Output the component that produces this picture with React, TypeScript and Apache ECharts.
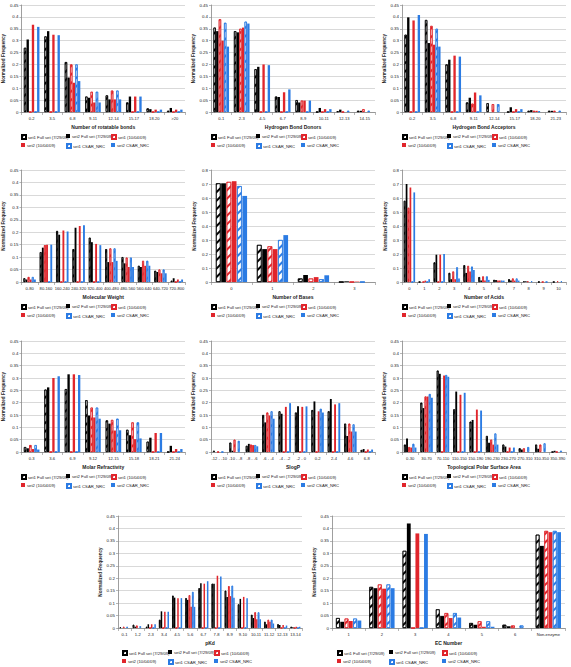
import React, { useEffect, useRef } from "react";
import * as echarts from "echarts";

const seriesNames = [
  "set1 Full set (7/29/09)",
  "set2 Full set (7/29/09)",
  "set1 (10/04/09)",
  "set2 (10/04/09)",
  "set1 CSAR_NRC",
  "set2 CSAR_NRC",
];

// Rotatable bonds
const rotCats = ["0-2", "3-5", "6-8", "9-11", "12-14", "15-17", "18-20", ">20"];
const rotVals = [
  [0.27, 0.318, 0.21, 0.065, 0.07, 0.04, 0.015, 0.005],
  [0.305, 0.34, 0.145, 0.06, 0.053, 0.065, 0.012, 0.017],
  [0, 0, 0.2, 0.085, 0.09, 0, 0, 0],
  [0.367, 0.325, 0.123, 0.04, 0.053, 0.065, 0.01, 0.01],
  [0, 0, 0.2, 0.085, 0.09, 0, 0, 0],
  [0.358, 0.323, 0.13, 0.04, 0.053, 0.065, 0.01, 0.01],
];

// Hydrogen bond donors
const hbdCats = ["0-1", "2-3", "4-5", "6-7", "8-9", "10-11", "12-13", "14-15"];
const hbdVals = [
  [0.355, 0.34, 0.18, 0.065, 0.05, 0, 0.003, 0.005],
  [0.34, 0.335, 0.19, 0.063, 0.04, 0.017, 0.01, 0.005],
  [0.39, 0.35, 0, 0, 0.048, 0, 0, 0.012],
  [0.3, 0.355, 0.2, 0.083, 0.048, 0.012, 0, 0],
  [0.375, 0.38, 0, 0, 0, 0, 0.005, 0.005],
  [0.275, 0.372, 0.197, 0.095, 0.048, 0.012, 0, 0],
];

// Hydrogen bond acceptors
const hbaCats = ["0-2", "3-5", "6-8", "9-11", "12-14", "15-17", "18-20", "21-23"];
const hbaVals = [
  [0.325, 0.387, 0.2, 0.04, 0.037, 0, 0.005, 0.005],
  [0.398, 0.29, 0.22, 0.06, 0, 0.02, 0.008, 0.005],
  [0, 0.362, 0, 0.035, 0.033, 0, 0.005, 0.005],
  [0.385, 0.283, 0.237, 0.082, 0, 0.012, 0.005, 0],
  [0, 0.35, 0, 0, 0.033, 0, 0.003, 0.005],
  [0.408, 0.275, 0.233, 0.07, 0, 0.012, 0, 0],
];

// Molecular weight
const mwCats = ["0-80", "80-160", "160-240", "240-320", "320-400", "400-480", "480-560", "560-640", "640-720", "720-800"];
const mwVals = [
  [0.015, 0.12, 0.205, 0.132, 0.178, 0.132, 0.1, 0.065, 0.045, 0.005],
  [0.01, 0.138, 0.19, 0.218, 0.16, 0.08, 0.075, 0.06, 0.04, 0.015],
  [0.02, 0.148, 0, 0, 0, 0.135, 0.098, 0.085, 0.05, 0],
  [0.01, 0.15, 0.207, 0.225, 0.153, 0.08, 0.06, 0.065, 0.035, 0.01],
  [0.02, 0, 0, 0, 0, 0.135, 0.098, 0.085, 0.05, 0],
  [0.01, 0.15, 0.203, 0.228, 0.148, 0.085, 0.06, 0.065, 0.035, 0.01],
];

// Number of bases
const baseCats = ["0", "1", "2", "3"];
const baseVals = [
  [0.705, 0.265, 0.025, 0],
  [0.705, 0.235, 0.05, 0.005],
  [0.715, 0.255, 0.025, 0],
  [0.72, 0.235, 0.035, 0.003],
  [0.685, 0.3, 0.02, 0],
  [0.615, 0.335, 0.048, 0],
];

// Number of acids
const acidCats = ["0", "1", "2", "3", "4", "5", "6", "7", "8", "9", "10"];
const acidVals = [
  [0.58, 0, 0.14, 0.065, 0.12, 0.035, 0.015, 0.02, 0.005, 0, 0],
  [0.7, 0, 0.195, 0.02, 0.065, 0.01, 0.015, 0.01, 0.005, 0, 0],
  [0.53, 0, 0, 0.075, 0.115, 0.04, 0.01, 0.025, 0.005, 0, 0.005],
  [0.675, 0.01, 0.195, 0.02, 0.075, 0.01, 0.01, 0.01, 0, 0, 0],
  [0, 0, 0, 0.105, 0.11, 0.04, 0.01, 0.025, 0.005, 0, 0.005],
  [0.64, 0.02, 0.2, 0.025, 0.085, 0.015, 0.01, 0.01, 0, 0, 0],
];

// Molar refractivity
const mrCats = ["0-3", "3-6", "6-9", "9-12", "12-15", "15-18", "18-21", "21-24"];
const mrVals = [
  [0.02, 0.253, 0.255, 0.21, 0.128, 0.09, 0.042, 0],
  [0.015, 0.262, 0.315, 0.148, 0.115, 0.068, 0.058, 0.025],
  [0.028, 0, 0, 0.18, 0.13, 0.12, 0, 0],
  [0.012, 0.3, 0.315, 0.14, 0.087, 0.052, 0.077, 0.012],
  [0.028, 0, 0, 0.18, 0.135, 0.12, 0, 0],
  [0.01, 0.307, 0.312, 0.135, 0.088, 0.055, 0.077, 0.012],
];

// SlogP
const slogpCats = ["-12 - -10", "-10 - -8", "-8 - -6", "-6 - -4", "-4 - -2", "-2 - 0", "0-2", "2-4", "4-6", "6-8"];
const slogpVals = [
  [0.005, 0.038, 0.025, 0.15, 0.165, 0.16, 0.17, 0.165, 0.115, 0.008],
  [0, 0.005, 0.033, 0.12, 0.155, 0.185, 0.205, 0.215, 0.065, 0.012],
  [0, 0.05, 0.03, 0.16, 0, 0, 0, 0, 0.115, 0],
  [0, 0, 0.028, 0.148, 0.183, 0.183, 0.165, 0.193, 0.083, 0.01],
  [0, 0.045, 0.028, 0.165, 0, 0, 0.175, 0, 0.112, 0],
  [0, 0, 0.023, 0.135, 0.198, 0.185, 0.16, 0.198, 0.083, 0.01],
];

// Topological polar surface area
const tpsaCats = ["0-30", "30-70", "70-110", "110-150", "150-190", "190-230", "230-270", "270-310", "310-350", "350-390"];
const tpsaVals = [
  [0.03, 0.2, 0.33, 0.173, 0.123, 0.065, 0.03, 0.015, 0.03, 0],
  [0.055, 0.178, 0.317, 0.245, 0.13, 0.038, 0.022, 0.01, 0.013, 0.005],
  [0.02, 0.225, 0, 0, 0, 0.05, 0, 0.015, 0.03, 0],
  [0.018, 0.225, 0.31, 0.232, 0.172, 0.03, 0.018, 0, 0, 0],
  [0.033, 0.235, 0.312, 0, 0, 0.075, 0, 0.02, 0.035, 0.005],
  [0.018, 0.22, 0.305, 0.24, 0.168, 0.03, 0.018, 0, 0, 0],
];

// pKd
const pkdCats = ["0-1", "1-2", "2-3", "3-4", "4-5", "5-6", "6-7", "7-8", "8-9", "9-10", "10-11", "11-12", "12-13", "13-14"];
const pkdVals = [
  [0.003, 0.013, 0.005, 0.033, 0.13, 0.12, 0.16, 0.178, 0.15, 0.095, 0.053, 0.025, 0.015, 0.005],
  [0, 0.005, 0.015, 0.067, 0.122, 0.113, 0.18, 0.178, 0.125, 0.117, 0.04, 0.015, 0.012, 0.003],
  [0.005, 0.01, 0, 0, 0, 0.132, 0, 0, 0.168, 0, 0.063, 0.033, 0, 0],
  [0, 0, 0.015, 0.065, 0.12, 0.085, 0.178, 0.21, 0.128, 0.125, 0.035, 0.025, 0.012, 0.005],
  [0.005, 0.007, 0, 0, 0, 0.145, 0, 0, 0.17, 0, 0.063, 0.033, 0, 0],
  [0, 0, 0.015, 0.065, 0.12, 0.085, 0.188, 0.207, 0.122, 0.12, 0.035, 0.018, 0.01, 0.005],
];

// EC number
const ecCats = ["1", "2", "3", "4", "5", "6", "Non-enzyme"];
const ecVals = [
  [0.04, 0.165, 0.31, 0.075, 0.02, 0.013, 0.375],
  [0.025, 0.16, 0.42, 0.048, 0.013, 0.007, 0.33],
  [0.038, 0.175, 0, 0.06, 0.027, 0.01, 0.39],
  [0.028, 0.158, 0.38, 0.04, 0.005, 0, 0.385],
  [0.038, 0.175, 0, 0.06, 0.027, 0.01, 0.39],
  [0.03, 0.16, 0.378, 0.042, 0.005, 0, 0.385],
];

const FONT = "'Liberation Sans Narrow', 'Liberation Sans', Arial, sans-serif";
const BLACK = "#000000";
const RED = "#e0252b";
const BLUE = "#2b7be3";
const seriesColors = [BLACK, BLACK, RED, RED, BLUE, BLUE];

type Panel = {
  cats: string[];
  vals: number[][];
  title: string;
  ymax: number;
  interval: number;
  left: number;
  top: number;
  width: number;
  height: number;
  legendCols: number[];
};

const colStd = [0, 45, 90];
const panels: Panel[] = [
  { cats: rotCats, vals: rotVals, title: "Number of rotatable bonds", ymax: 0.45, interval: 0.05, left: 21, top: 5, width: 164, height: 107, legendCols: colStd },
  { cats: hbdCats, vals: hbdVals, title: "Hydrogen Bond Donors", ymax: 0.45, interval: 0.05, left: 211, top: 5, width: 164, height: 107, legendCols: colStd },
  { cats: hbaCats, vals: hbaVals, title: "Hydrogen Bond Acceptors", ymax: 0.45, interval: 0.05, left: 402, top: 5, width: 164, height: 107, legendCols: colStd },
  { cats: mwCats, vals: mwVals, title: "Molecular Weight", ymax: 0.45, interval: 0.05, left: 21, top: 170, width: 164, height: 112, legendCols: colStd },
  { cats: baseCats, vals: baseVals, title: "Number of Bases", ymax: 0.8, interval: 0.1, left: 211, top: 170, width: 164, height: 112, legendCols: colStd },
  { cats: acidCats, vals: acidVals, title: "Number of Acids", ymax: 0.8, interval: 0.1, left: 402, top: 170, width: 164, height: 112, legendCols: colStd },
  { cats: mrCats, vals: mrVals, title: "Molar Refractivity", ymax: 0.45, interval: 0.05, left: 21, top: 341, width: 164, height: 111, legendCols: colStd },
  { cats: slogpCats, vals: slogpVals, title: "SlogP", ymax: 0.45, interval: 0.05, left: 211, top: 341, width: 164, height: 111, legendCols: colStd },
  { cats: tpsaCats, vals: tpsaVals, title: "Topological Polar Surface Area", ymax: 0.45, interval: 0.05, left: 402, top: 341, width: 164, height: 111, legendCols: colStd },
  { cats: pkdCats, vals: pkdVals, title: "pKd", ymax: 0.45, interval: 0.05, left: 118, top: 516, width: 184, height: 112, legendCols: [4, 50, 96] },
  { cats: ecCats, vals: ecVals, title: "EC Number", ymax: 0.45, interval: 0.05, left: 332, top: 516, width: 233, height: 112, legendCols: [5, 57, 110] },
];

function hatch(color: string) {
  return {
    symbol: "rect",
    symbolSize: 1,
    color,
    backgroundColor: "#ffffff",
    dashArrayX: [1, 0],
    dashArrayY: [1.2, 4],
    rotation: -Math.PI / 4,
  };
}

function itemStyleFor(s: number) {
  const c = seriesColors[s];
  if (s % 2 === 0) {
    return { color: "#ffffff", borderColor: c, borderWidth: 0.7, decal: hatch(c) };
  }
  return { color: c };
}

function buildOption() {
  const grid: any[] = [];
  const xAxis: any[] = [];
  const yAxis: any[] = [];
  const series: any[] = [];
  const legend: any[] = [];

  panels.forEach((p, i) => {
    grid.push({ left: p.left, top: p.top, width: p.width, height: p.height, containLabel: false });
    xAxis.push({
      type: "category",
      gridIndex: i,
      data: p.cats,
      name: p.title,
      nameLocation: "middle",
      nameGap: 12,
      nameTextStyle: { fontSize: 5, fontWeight: "bold", color: "#222", fontFamily: FONT },
      axisLine: { lineStyle: { color: "#868686", width: 0.8 } },
      axisTick: { show: true, length: 3, lineStyle: { color: "#868686", width: 0.6 } },
      axisLabel: { fontSize: 4.1, color: "#222", fontFamily: FONT, interval: 0, margin: 4 },
    });
    yAxis.push({
      type: "value",
      gridIndex: i,
      min: 0,
      max: p.ymax,
      interval: p.interval,
      name: "Normalized Frequency",
      nameLocation: "middle",
      nameGap: 14,
      nameRotate: 90,
      nameTextStyle: { fontSize: 4.6, fontWeight: "bold", color: "#222", fontFamily: FONT },
      axisLine: { show: true, lineStyle: { color: "#868686", width: 0.8 } },
      axisTick: { show: true, length: 2, lineStyle: { color: "#868686", width: 0.6 } },
      axisLabel: { fontSize: 4.4, color: "#222", fontFamily: FONT, margin: 3 },
      splitLine: { show: true, lineStyle: { color: "#c8c8c8", width: 0.7 } },
    });
    for (let s = 0; s < 6; s++) {
      series.push({
        type: "bar",
        name: seriesNames[s],
        xAxisIndex: i,
        yAxisIndex: i,
        data: p.vals[s],
        barGap: "12%",
        barCategoryGap: "24%",
        itemStyle: itemStyleFor(s),
      });
    }
    const bottom = p.top + p.height;
    for (let s = 0; s < 6; s++) {
      const row = s < 3 ? 0 : 1;
      const col = s % 3;
      legend.push({
        data: [{ name: seriesNames[s], icon: "rect" }],
        left: p.left + p.legendCols[col],
        top: bottom + 22 + row * 9,
        padding: 0,
        itemWidth: 4,
        itemHeight: 4,
        itemGap: 2,
        textStyle: { fontSize: 4.2, color: "#222", fontFamily: FONT, padding: [0, 0, 0, -3] },
        selectedMode: false,
      });
    }
  });

  return {
    animation: false,
    backgroundColor: "#ffffff",
    grid,
    xAxis,
    yAxis,
    series,
    legend,
  };
}

export default function App() {
  const ref = useRef<HTMLDivElement>(null);
  useEffect(() => {
    if (!ref.current) return;
    const chart = echarts.init(ref.current, null, { renderer: "svg" });
    chart.setOption(buildOption() as any);
    return () => chart.dispose();
  }, []);
  return (
    <div
      ref={ref}
      style={{ position: "absolute", left: 0, top: 0, width: 571, height: 667, background: "#fff" }}
    />
  );
}
